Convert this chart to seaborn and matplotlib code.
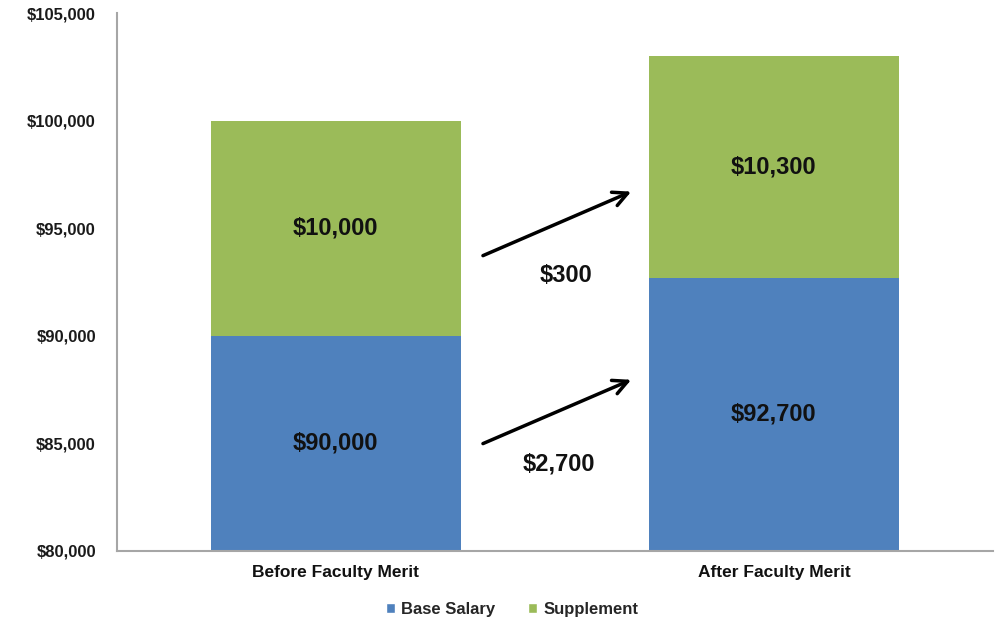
import matplotlib
matplotlib.use("Agg")
import matplotlib.pyplot as plt
import seaborn as sns
import pandas as pd
from matplotlib.patches import Patch
from matplotlib.ticker import FuncFormatter

# --- data ---
categories = ["Before Faculty Merit", "After Faculty Merit"]
base_salary = [90000, 92700]
supplement = [10000, 10300]
increases = ["$2,700", "$300"]   # base, supplement
y_min, y_max, y_step = 80000, 105000, 5000

BLUE = "#4F81BD"
GREEN = "#9BBB59"
NARROW = ["Liberation Sans Narrow", "Liberation Sans", "DejaVu Sans"]

sns.set_style("white")
plt.rcParams["font.family"] = ["Liberation Sans", "DejaVu Sans"]

df = pd.DataFrame({
    "category": categories,
    "base": base_salary,
    "supplement": supplement,
})
df["total"] = df["base"] + df["supplement"]

fig = plt.figure(figsize=(9.98, 6.23), dpi=100)
ax = fig.add_axes([0.117, 0.116, 0.878, 0.863])

# stacked bars: totals first (green), base on top of it (blue)
sns.barplot(data=df, x="category", y="total", color=GREEN, saturation=1,
            width=0.572, linewidth=0, ax=ax)
sns.barplot(data=df, x="category", y="base", color=BLUE, saturation=1,
            width=0.572, linewidth=0, ax=ax)

ax.set_ylim(y_min, y_max)
ax.set_xlim(-0.5, 1.5)
ax.set_yticks(range(y_min, y_max + 1, y_step))
ax.yaxis.set_major_formatter(FuncFormatter(lambda v, p: f"${v:,.0f}"))
ax.set_xlabel("")
ax.set_ylabel("")

for lab in ax.get_yticklabels():
    lab.set_fontsize(12)
    lab.set_fontweight("bold")
    lab.set_color("#1a1a1a")
ax.tick_params(axis="y", length=0, pad=15)
ax.tick_params(axis="x", length=0, pad=10)
for lab in ax.get_xticklabels():
    lab.set_fontsize(12.5)
    lab.set_fontweight("bold")
    lab.set_family(NARROW)
    lab.set_color("#111111")

sns.despine(ax=ax, top=True, right=True)
for side in ["left", "bottom"]:
    ax.spines[side].set_color("#a6a6a6")
    ax.spines[side].set_linewidth(1.5)

# segment labels at the centre of the visible part of each segment
label_kw = dict(ha="center", va="center", fontsize=17, fontweight="bold",
                family=NARROW, color="#111111")
for i, row in df.iterrows():
    ax.text(i, (y_min + row["base"]) / 2, f"${row['base']:,.0f}", **label_kw)
    ax.text(i, (row["base"] + row["total"]) / 2,
            f"${row['supplement']:,.0f}", **label_kw)

# arrows showing the increases
arrow_specs = [
    ((0.33, 84930), (0.68, 88000), (0.51, 84050), increases[0]),
    ((0.33, 93670), (0.68, 96750), (0.525, 92800), increases[1]),
]
for start, end, txt_pos, txt in arrow_specs:
    ax.annotate("", xy=end, xytext=start,
                arrowprops=dict(arrowstyle="->", color="black", lw=2.5,
                                mutation_scale=26))
    ax.text(txt_pos[0], txt_pos[1], txt, **label_kw)

handles = [Patch(facecolor=BLUE, label="Base Salary"),
           Patch(facecolor=GREEN, label="Supplement")]
fig.legend(handles=handles, loc="center", bbox_to_anchor=(0.513, 0.022),
           ncol=2, frameon=False, handlelength=0.55, handleheight=0.55,
           handletextpad=0.35, columnspacing=2.0,
           prop={"size": 12, "weight": "bold"})

fig.savefig("out.png", dpi=100)
